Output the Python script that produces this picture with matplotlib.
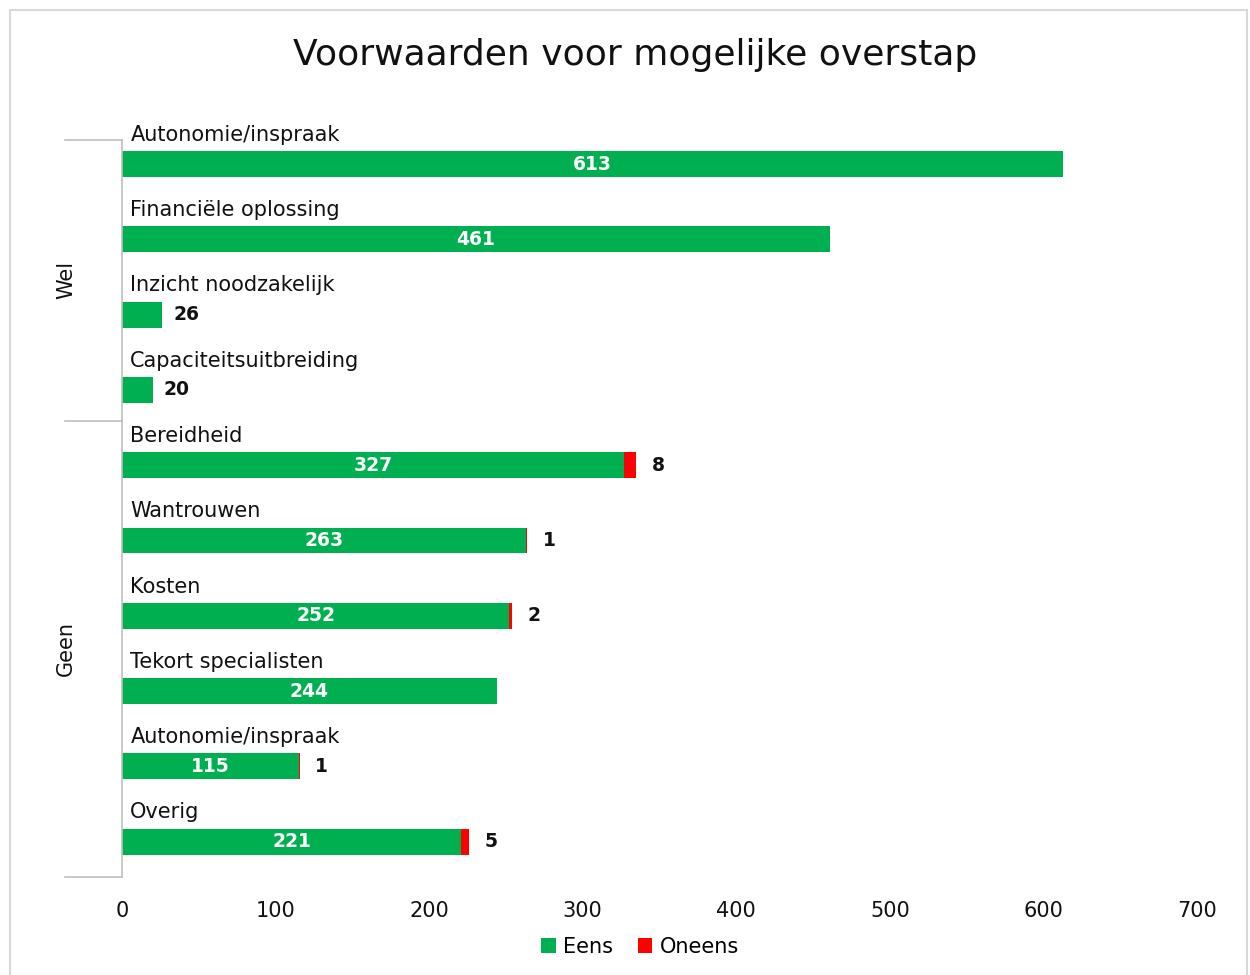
import matplotlib
matplotlib.use("Agg")
import matplotlib.pyplot as plt
from matplotlib.patches import Rectangle
from matplotlib.lines import Line2D

categories = ["Autonomie/inspraak", "Financiële oplossing", "Inzicht noodzakelijk",
              "Capaciteitsuitbreiding", "Bereidheid", "Wantrouwen", "Kosten",
              "Tekort specialisten", "Autonomie/inspraak", "Overig"]
eens = [613, 461, 26, 20, 327, 263, 252, 244, 115, 221]
oneens = [0, 0, 0, 0, 8, 1, 2, 0, 1, 5]
groups = ["Wel", "Geen"]
group_sizes = [4, 6]
xticks = [0, 100, 200, 300, 400, 500, 600, 700]

GREEN = "#00B050"
RED = "#FF0000"
FONT = "DejaVu Sans"
TXT = "#111111"
plt.rcParams["font.family"] = FONT

fig = plt.figure(figsize=(12.5, 9.75), dpi=100)
W, H = 1250, 975
ax = fig.add_axes([122 / W, 1 - 877 / H, (1197 - 122) / W, (877 - 140) / H])

y = list(range(len(categories)))
bh = 0.345
ax.barh(y, eens, height=bh, color=GREEN, label="Eens")
ax.barh(y, oneens, left=eens, height=bh, color=RED, label="Oneens")

ax.set_xlim(0, 700)
ax.set_ylim(9.47, -0.32)
ax.set_xticks(xticks)
ax.set_xticklabels([str(t) for t in xticks], fontsize=15, color=TXT)
ax.tick_params(axis="x", length=0, pad=17)
ax.set_yticks([])
for s in ["top", "right", "bottom"]:
    ax.spines[s].set_visible(False)
ax.spines["left"].set_color("#BFBFBF")
ax.spines["left"].set_linewidth(1.2)

for i, (cat, e, o) in enumerate(zip(categories, eens, oneens)):
    ax.annotate(cat, (0, i - bh / 2), xytext=(6, 4.5), textcoords="offset points",
                ha="left", va="bottom", fontsize=15, color=TXT)
    if e >= 60:
        ax.text(e / 2, i, str(e), ha="center", va="center", color="white",
                fontsize=13.5, fontweight="bold")
    else:
        ax.annotate(str(e), (e, i), xytext=(8, 0), textcoords="offset points",
                    ha="left", va="center", fontsize=13.5, fontweight="bold", color=TXT)
    if o > 0:
        ax.annotate(str(o), (e + o, i), xytext=(11, 0), textcoords="offset points",
                    ha="left", va="center", fontsize=13.5, fontweight="bold", color=TXT)

# group brackets
bounds = [-0.32]
acc = 0
for n in group_sizes:
    acc += n
    bounds.append(acc - 0.59 if acc < len(categories) else 9.47)
lx0 = (65 - 122) / (1197 - 122)
for b in bounds:
    ax.add_line(Line2D([lx0, 0], [b, b], transform=ax.get_yaxis_transform(),
                       color="#BFBFBF", lw=1.2, clip_on=False))
for g, a, b in zip(groups, bounds[:-1], bounds[1:]):
    ax.text((66 - 122) / (1197 - 122), (a + b) / 2, g, transform=ax.get_yaxis_transform(),
            rotation=90, ha="center", va="center", fontsize=15, color=TXT)

fig.text(635 / W, 1 - 55 / H, "Voorwaarden voor mogelijke overstap", ha="center", va="center",
         fontsize=26, color=TXT)

leg = fig.legend(loc="center", bbox_to_anchor=(640 / W, 1 - 947 / H), ncol=2, frameon=False,
                 fontsize=15, handlelength=0.7, handleheight=0.7, columnspacing=1.2,
                 handletextpad=0.35)

fig.patches.append(Rectangle((10 / W, -0.01), (1247 - 10) / W, 1 - 10 / H + 0.01,
                             transform=fig.transFigure, fill=False, edgecolor="#D9D9D9", lw=1.5))

fig.savefig("out.png", dpi=100)
